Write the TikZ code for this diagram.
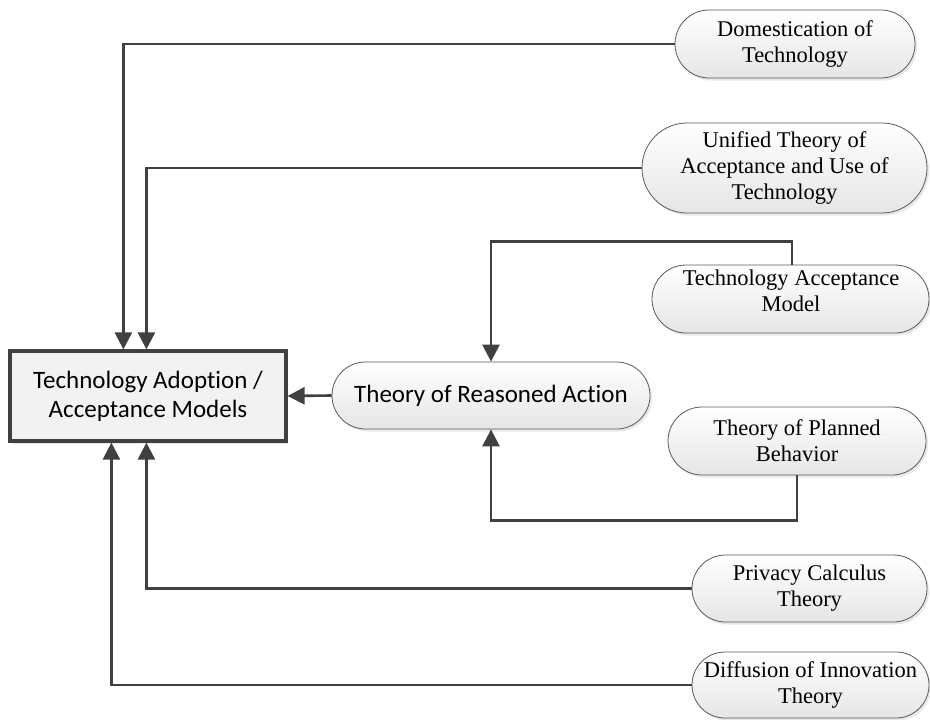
\documentclass[tikz,border=0pt]{standalone}
\usepackage{fontspec}
\setmainfont{Liberation Serif}
\newfontfamily\calibrifont[Ligatures={NoCommon}]{Carlito}
\usetikzlibrary{arrows.meta,shadows}

\definecolor{linegray}{HTML}{404040}
\definecolor{edgegray}{HTML}{5A5A5A}

\tikzset{
  conn/.style={draw=linegray, line width=2.6pt, -{Triangle[length=17pt,width=17pt]}},
  pill/.style={draw=edgegray, line width=0.8pt, rectangle, inner sep=0pt,
    top color=white, bottom color=black!10, align=center,
    font=\fontsize{22.5}{26}\selectfont,
    drop shadow={opacity=0.18, shadow xshift=2pt, shadow yshift=-2.5pt}},
  calpill/.style={pill, font=\calibrifont\fontsize{25}{29}\selectfont},
  mainbox/.style={draw=linegray, line width=3.2pt, rectangle, fill=black!5,
    align=center, inner sep=0pt, font=\calibrifont\fontsize{25}{29}\selectfont,
    drop shadow={opacity=0.2, shadow xshift=2pt, shadow yshift=-2.5pt}},
  label text/.style={align=center, inner sep=0pt, font=\fontsize{22.5}{26}\selectfont}
}

\begin{document}
\begin{tikzpicture}[x=1pt, y=-1pt]
  \useasboundingbox (0,0) rectangle (930,720);

  % central box
  \node[mainbox, minimum width=276pt, minimum height=90pt] (main) at (148,396)
    {Technology Adoption /\\Acceptance Models};

  % theory nodes
  \node[calpill, minimum width=318pt, minimum height=67pt, rounded corners=33.5pt]
    (tra) at (491,395.5) {Theory of Reasoned Action};
  \node[pill, minimum width=240pt, minimum height=68pt, rounded corners=34pt]
    (dom) at (795,44) {Domestication of\\Technology};
  \node[pill, minimum width=285pt, minimum height=90pt, rounded corners=45pt]
    (utaut) at (784.5,168) {Unified Theory of\\Acceptance and Use of\\Technology};
  \node[pill, minimum width=277pt, minimum height=68pt, rounded corners=34pt]
    (tam) at (790.5,299) {};
  \node[label text] (tamtext) at (791,291) {Technology Acceptance\\Model};
  \node[pill, minimum width=258pt, minimum height=68pt, rounded corners=34pt]
    (tpb) at (797,441) {Theory of Planned\\Behavior};
  \node[pill, minimum width=235pt, minimum height=67pt, rounded corners=33.5pt]
    (pct) at (809.5,588.5) {Privacy Calculus\\Theory};
  \node[pill, minimum width=237pt, minimum height=66pt, rounded corners=33pt]
    (doi) at (810.5,685) {Diffusion of Innovation\\Theory};

  % connectors into the central box
  \draw[conn] (dom.west) -| ([xshift=115pt]main.north west);
  \draw[conn] (utaut.west) -| ([xshift=138pt]main.north west);
  \draw[conn] (pct.west) -| ([xshift=138pt]main.south west);
  \draw[conn] (doi.west) -| ([xshift=103pt]main.south west);
  \draw[conn] (tra.west) -- (main.east);

  % connectors into Theory of Reasoned Action
  \draw[conn] ([xshift=1.5pt]tam.north) -- ++(0,-23) -| (tra.north);
  \draw[conn] (tpb.south) -- ++(0,45) -| (tra.south);
\end{tikzpicture}
\end{document}
